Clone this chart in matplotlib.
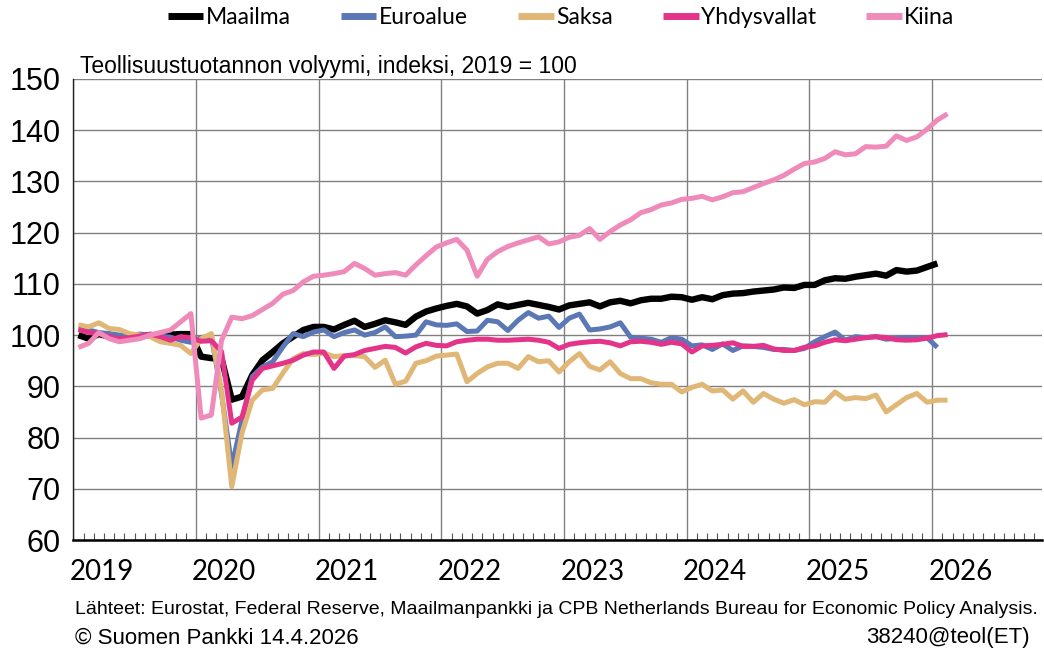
import matplotlib
matplotlib.use('Agg')
import matplotlib.pyplot as plt
import matplotlib.transforms as mtransforms
from matplotlib.ticker import MultipleLocator

# Teollisuustuotannon volyymi, kuukausittain tammikuu 2019 ->
vuodet = [2019, 2020, 2021, 2022, 2023, 2024, 2025, 2026]

maailma = [100.0, 99.3, 100.2, 99.7, 99.6, 99.7, 99.8, 100.0, 100.0, 100.1, 100.2, 100.2,
           95.8, 95.5, 95.4, 87.4, 88.0, 92.2, 95.1, 96.7, 98.4, 99.7, 101.0, 101.6,
           101.6, 101.1, 102.0, 102.8, 101.6, 102.2, 102.9, 102.5, 102.0, 103.6, 104.6, 105.2,
           105.7, 106.1, 105.6, 104.2, 104.9, 106.0, 105.5, 105.9, 106.3, 105.9, 105.5, 105.0,
           105.8, 106.1, 106.4, 105.6, 106.4, 106.7, 106.2, 106.8, 107.1, 107.1, 107.5, 107.4,
           106.9, 107.4, 107.0, 107.8, 108.1, 108.2, 108.5, 108.7, 108.9, 109.3, 109.2, 109.8,
           109.8, 110.7, 111.1, 111.0, 111.4, 111.7, 112.0, 111.6, 112.7, 112.4, 112.6, 113.3,
           114.0]

euroalue = [101.2, 101.0, 100.5, 100.3, 100.0, 99.8, 100.2, 100.0, 99.8, 99.6, 99.0, 98.6,
            99.5, 99.8, 88.5, 74.3, 83.4, 91.9, 93.8, 94.8, 97.7, 100.3, 99.7, 100.6,
            101.0, 99.7, 100.5, 101.0, 100.0, 100.5, 101.6, 99.7, 99.8, 100.0, 102.6, 102.0,
            101.9, 102.2, 100.7, 100.8, 102.9, 102.6, 100.9, 102.9, 104.4, 103.3, 103.7, 101.5,
            103.3, 104.1, 101.0, 101.2, 101.6, 102.4, 99.6, 99.4, 99.2, 98.6, 99.5, 99.2,
            97.9, 98.1, 97.2, 98.3, 97.0, 97.9, 97.8, 97.6, 97.2, 97.2, 97.0, 97.4,
            98.7, 99.7, 100.6, 99.0, 99.7, 99.5, 99.7, 99.2, 99.4, 99.5, 99.5, 99.5,
            97.6]

saksa = [102.0, 101.6, 102.4, 101.3, 101.1, 100.3, 100.0, 99.7, 98.7, 98.4, 98.0, 96.4,
         99.3, 100.3, 89.0, 70.4, 80.9, 87.3, 89.3, 89.6, 92.6, 95.4, 96.4, 96.2,
         96.5, 95.8, 96.0, 96.0, 95.8, 93.7, 95.1, 90.4, 91.0, 94.5, 95.0, 95.9,
         96.1, 96.3, 90.9, 92.5, 93.8, 94.5, 94.5, 93.5, 95.8, 94.8, 95.0, 92.8,
         94.8, 96.4, 93.9, 93.2, 94.8, 92.5, 91.5, 91.5, 90.7, 90.4, 90.4, 88.9,
         89.8, 90.4, 89.1, 89.3, 87.5, 89.1, 86.9, 88.6, 87.5, 86.7, 87.4, 86.4,
         87.0, 86.9, 88.9, 87.5, 87.8, 87.6, 88.3, 85.0, 86.4, 87.8, 88.6, 86.9,
         87.3, 87.3]

yhdysvallat = [101.1, 100.5, 100.3, 99.7, 99.3, 99.5, 99.8, 100.2, 99.7, 99.0, 99.7, 99.5,
               98.8, 98.9, 96.8, 82.8, 84.0, 91.2, 93.5, 94.0, 94.5, 95.1, 96.1, 96.7,
               96.7, 93.5, 95.9, 96.2, 97.0, 97.4, 97.8, 97.6, 96.5, 97.7, 98.4, 98.0,
               97.9, 98.7, 99.0, 99.2, 99.2, 99.0, 99.0, 99.1, 99.2, 99.0, 98.6, 97.4,
               98.2, 98.5, 98.7, 98.8, 98.5, 97.9, 98.7, 98.8, 98.6, 98.2, 98.6, 98.3,
               96.7, 97.9, 98.0, 98.2, 98.5, 97.8, 97.8, 98.0, 97.3, 97.0, 97.0, 97.6,
               97.9, 98.6, 99.1, 98.9, 99.2, 99.5, 99.7, 99.5, 99.1, 99.0, 99.1, 99.4,
               99.9, 100.1]

kiina = [97.6, 98.4, 100.5, 99.3, 98.7, 99.0, 99.3, 100.0, 100.5, 101.0, 102.6, 104.2,
         83.8, 84.4, 99.0, 103.5, 103.2, 103.8, 105.0, 106.2, 108.0, 108.7, 110.4, 111.5,
         111.7, 112.0, 112.4, 114.0, 113.0, 111.7, 112.0, 112.2, 111.7, 113.7, 115.5, 117.2,
         118.0, 118.7, 116.6, 111.5, 114.8, 116.3, 117.3, 118.0, 118.6, 119.2, 117.8, 118.2,
         119.1, 119.5, 120.8, 118.7, 120.2, 121.5, 122.5, 123.9, 124.5, 125.4, 125.8, 126.5,
         126.7, 127.1, 126.4, 127.0, 127.8, 128.0, 128.8, 129.6, 130.3, 131.2, 132.4, 133.5,
         133.8, 134.5, 135.8, 135.2, 135.4, 136.8, 136.7, 136.9, 138.9, 138.0, 138.7, 140.2,
         142.0, 143.2]

sarjat = [('Maailma', maailma, '#000000', 4.6),
          ('Euroalue', euroalue, '#5b77b6', 3.6),
          ('Saksa', saksa, '#e0b776', 3.6),
          ('Yhdysvallat', yhdysvallat, '#e4348a', 3.6),
          ('Kiina', kiina, '#ef8bbb', 3.6)]

kapea = ['Lato', 'DejaVu Sans']
leveä = ['Liberation Sans', 'DejaVu Sans']


def kuukaudet(n):
    # pisteet kuun puoliväliin
    return [2019 + (i + 0.5) / 12 for i in range(n)]


fig = plt.figure(figsize=(10.44, 6.51), dpi=100)
ax = fig.add_axes([73.3 / 1044, 1 - 540 / 651, (1042 - 73.3) / 1044, (540 - 79) / 651])

for nimi, arvot, vari, lw in sarjat:
    ax.plot(kuukaudet(len(arvot)), arvot, color=vari, lw=lw, label=nimi,
            solid_joinstyle='round', solid_capstyle='butt')

ax.set_xlim(2019, 2019 + (1042 - 73.3) / 122.7)
ax.set_ylim(60, 150)
ax.set_yticks(range(60, 151, 10))
ax.set_xticks(vuodet)
ax.xaxis.set_minor_locator(MultipleLocator(1 / 12))
ax.tick_params(axis='x', which='major', length=0, labelbottom=False)
ax.tick_params(axis='x', which='minor', direction='in', length=5, width=0.8, color='#555555')
ax.tick_params(axis='y', length=0, labelsize=22, pad=9)
for t in ax.get_yticklabels():
    t.set_family(leveä)
ax.grid(True, which='major', color='#808080', lw=1.0)
ax.set_axisbelow(True)
ax.spines['right'].set_visible(False)
ax.spines['top'].set_visible(False)
ax.spines['left'].set_color('#222222')
ax.spines['left'].set_linewidth(1.0)
ax.spines['bottom'].set_color('#000000')
ax.spines['bottom'].set_linewidth(1.8)

# vuosien nimet vähän vuoden alun oikealle puolelle
trans = mtransforms.blended_transform_factory(ax.transData, ax.transAxes)
for v in vuodet:
    ax.text(v + 0.23, -0.069, str(v), transform=trans, ha='center', va='center',
            fontsize=20, family=kapea)

fig.text(80 / 1044, 1 - 67 / 651, 'Teollisuustuotannon volyymi, indeksi, 2019 = 100',
         fontsize=16.5, va='center', family=leveä)

leg = fig.legend(ncol=5, loc='center', bbox_to_anchor=(561 / 1044, 1 - 18 / 651),
                 frameon=False, handlelength=1.55, handletextpad=0.1,
                 columnspacing=2.2, prop={'family': kapea, 'size': 16.5})
for viiva in leg.get_lines():
    viiva.set_linewidth(5)

fig.text(75 / 1044, 1 - 610 / 651,
         'Lähteet: Eurostat, Federal Reserve, Maailmanpankki ja CPB Netherlands Bureau for Economic Policy Analysis.',
         fontsize=14, va='center', family=leveä)
fig.text(75 / 1044, 1 - 638 / 651, '© Suomen Pankki 14.4.2026', fontsize=16,
         va='center', family=leveä)
fig.text(1030 / 1044, 1 - 638 / 651, '38240@teol(ET)', fontsize=16, ha='right',
         va='center', family=leveä)

fig.savefig('out.png', dpi=100)
